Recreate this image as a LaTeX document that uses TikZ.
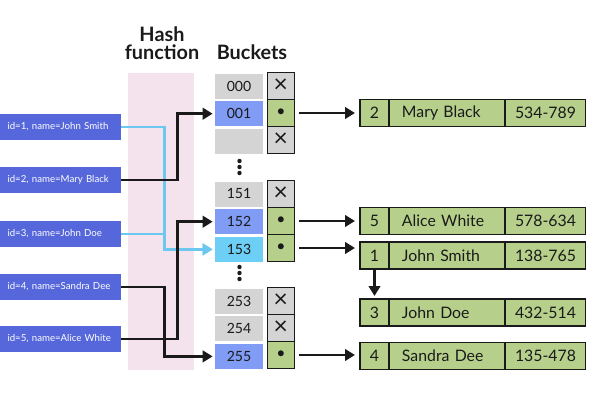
\documentclass[tikz,border=0pt]{standalone}
\usepackage{fontspec}
\setmainfont{Lato}
\usepackage{tikz}
\usetikzlibrary{arrows.meta,positioning,calc}
\definecolor{ink}{HTML}{1A1A1A}
\definecolor{keyblue}{HTML}{5567DB}
\definecolor{bandpink}{HTML}{F4E2EC}
\definecolor{slotgray}{HTML}{D4D4D4}
\definecolor{slotblue}{HTML}{809CF4}
\definecolor{slotcyan}{HTML}{6DCFF6}
\definecolor{recgreen}{HTML}{B6D08C}
\definecolor{linkcyan}{HTML}{6CC8EE}
\tikzset{
  >={Triangle[length=2mm,width=2.3mm]},
  every node/.style={text=ink},
  band/.style={fill=bandpink,minimum width=13.2mm,minimum height=59.4mm,inner sep=0pt},
  title/.style={font=\bfseries\fontsize{11.3}{10.4}\selectfont,align=center,inner sep=0pt},
  key/.style={fill=keyblue,text=white,font=\fontsize{5.5}{7}\selectfont,minimum width=24.2mm,minimum height=5.2mm,text width=21.2mm,align=left,inner xsep=1.5mm,inner ysep=0pt},
  slot/.style={fill=slotgray,minimum width=9.6mm,minimum height=5mm,inner sep=0pt,font=\fontsize{8}{9}\selectfont},
  usedslot/.style={slot,fill=slotblue},
  hitslot/.style={slot,fill=slotcyan},
  ptrcell/.style={draw=ink,line width=0.6pt,fill=slotgray,minimum width=5.4mm,minimum height=5.4mm,inner sep=0pt,outer sep=0pt,font=\fontsize{9}{9}\selectfont},
  liveptr/.style={ptrcell,fill=recgreen},
  nilmark/.style={font=\fontsize{14}{14}\selectfont},
  field/.style={draw=ink,line width=0.6pt,fill=recgreen,minimum height=5.4mm,inner sep=0pt,outer sep=0pt,font=\fontsize{9}{10}\selectfont},
  idfield/.style={field,minimum width=5.8mm},
  namefield/.style={field,minimum width=23.2mm,text width=18mm,align=left,inner xsep=2.6mm},
  telfield/.style={field,minimum width=16.2mm},
  arrow/.style={->,line width=1.7pt,draw=ink},
  hitarr/.style={arrow,draw=linkcyan},
  ptrarr/.style={arrow,shorten <=1mm,shorten >=1mm}
}
\begin{document}
\begin{tikzpicture}[x=0.02cm,y=-0.02cm]
  \useasboundingbox (0,0) rectangle (600,400);

  % hash function band and titles
  \node[band] (hashband) at (161,221.5) {};
  \node[title] (hashtitle) at (162,43) {Hash\\function};
  \node[title] (buckettitle) at (252,52.5) {Buckets};

  % keys
  \node[key] (ksmith) at (60.5,127) {id=1, name=John Smith};
  \node[key] (kmary) at (60.5,180) {id=2, name=Mary Black};
  \node[key] (kdoe) at (60.5,234) {id=3, name=John Doe};
  \node[key] (ksandra) at (60.5,287) {id=4, name=Sandra Dee};
  \node[key] (kalice) at (60.5,339) {id=5, name=Alice White};

  % buckets
  \node[slot] (b000) at (239,86) {000};
  \node[usedslot,below=0.4mm of b000] (b001) {001};
  \node[slot,below=0.4mm of b001] (bnil) {};
  \node[slot] (b151) at (239,194) {151};
  \node[usedslot,below=0.4mm of b151] (b152) {152};
  \node[hitslot,below=0.4mm of b152] (b153) {153};
  \node[slot] (b253) at (239,301) {253};
  \node[slot,below=0.4mm of b253] (b254) {254};
  \node[usedslot,below=0.4mm of b254] (b255) {255};

  % pointer cells
  \node[ptrcell,nilmark,right=0.8mm of b000] (p000) {×};
  \node[liveptr,below=0pt of p000] (p001) {•};
  \node[ptrcell,nilmark,below=0pt of p001] (pnil) {×};
  \node[ptrcell,nilmark,right=0.8mm of b151] (p151) {×};
  \node[liveptr,below=0pt of p151] (p152) {•};
  \node[liveptr,below=0pt of p152] (p153) {•};
  \node[ptrcell,nilmark,right=0.8mm of b253] (p253) {×};
  \node[ptrcell,nilmark,below=0pt of p253] (p254) {×};
  \node[liveptr,below=0pt of p254] (p255) {•};

  % skipped buckets
  \foreach \y in {161,167,173,267,273,279}
    \fill[ink] (239.5,\y) circle (2.2);

  % entries
  \node[idfield] (maryid) at (374.5,113) {2};
  \node[namefield,right=0pt of maryid] (maryname) {Mary Black};
  \node[telfield,right=0pt of maryname] (marytel) {534-789};

  \node[idfield] (aliceid) at (374.5,221) {5};
  \node[namefield,right=0pt of aliceid] (alicename) {Alice White};
  \node[telfield,right=0pt of alicename] (alicetel) {578-634};

  \node[idfield] (smithid) at (374.5,255.5) {1};
  \node[namefield,right=0pt of smithid] (smithname) {John Smith};
  \node[telfield,right=0pt of smithname] (smithtel) {138-765};

  \node[idfield] (doeid) at (374.5,312.5) {3};
  \node[namefield,right=0pt of doeid] (doename) {John Doe};
  \node[telfield,right=0pt of doename] (doetel) {432-514};

  \node[idfield] (sandraid) at (374.5,356) {4};
  \node[namefield,right=0pt of sandraid] (sandraname) {Sandra Dee};
  \node[telfield,right=0pt of sandraname] (sandratel) {135-478};

  % hashing
  \draw[hitarr,shorten >=0.4mm] (ksmith.east) -- ++(43,0) |- (b153.west);
  \draw[hitarr,shorten >=0.4mm] (kdoe.east) -- ++(43,0) |- (b153.west);
  \draw[arrow,shorten >=0.4mm] (kmary.east) -- ++(56,0) |- (b001.west);
  \draw[arrow,shorten >=0.4mm] (ksandra.east) -- ++(43,0) |- (b255.west);
  \draw[arrow,shorten >=0.4mm] (kalice.east) -- ++(56,0) |- (b152.west);

  % bucket pointers
  \draw[ptrarr] (p001.east) -- (p001 -| maryid.west);
  \draw[ptrarr] (p152.east) -- (p152 -| aliceid.west);
  \draw[ptrarr] (p153.east) -- (p153 -| smithid.west);
  \draw[ptrarr] (p255.east) -- (p255 -| sandraid.west);
  \draw[arrow,shorten <=0.2mm,shorten >=0.6mm] (smithid.south) -- (doeid.north);
\end{tikzpicture}
\end{document}
